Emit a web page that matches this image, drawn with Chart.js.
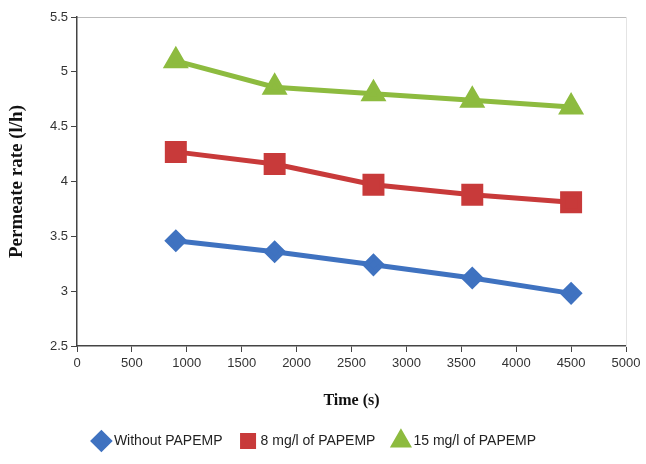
<!DOCTYPE html>
<html>
<head>
<meta charset="utf-8">
<script src="https://cdn.jsdelivr.net/npm/chart.js@4.4.0/dist/chart.umd.min.js"></script>
<style>
  html, body { margin: 0; padding: 0; background: #fff; }
  #wrap { width: 646px; height: 464px; }
</style>
</head>
<body>
<div id="wrap"><canvas id="myChart" width="646" height="464"></canvas></div>
<script>
'use strict'

// time in seconds
const times = [900, 1800, 2700, 3600, 4500];
// permeate rate (l/h)
const withoutPapemp = [3.46, 3.36, 3.24, 3.12, 2.98];
const papemp8 = [4.27, 4.16, 3.97, 3.88, 3.81];
const papemp15 = [5.10, 4.86, 4.80, 4.74, 4.68];
const seriesNames = ['Without PAPEMP', '8 mg/l of PAPEMP', '15 mg/l of PAPEMP'];

function toPoints(values) {
  return times.map(function (t, i) { return { x: t, y: values[i] }; });
}

const tickFont = { family: "'Liberation Sans', Arial, sans-serif", size: 13 };
const serif = "'Liberation Serif', 'Times New Roman', serif";

let ctx = document.getElementById('myChart').getContext('2d');

// eslint-disable-next-line no-unused-vars
let chart = new Chart(ctx, {
  type: 'line',
  data: {
    datasets: [{
      label: seriesNames[0],
      data: toPoints(withoutPapemp),
      borderColor: '#3f72c0',
      backgroundColor: '#3f72c0',
      borderWidth: 5,
      pointStyle: 'rectRot',
      pointRadius: 8,
      pointHoverRadius: 8
    },
    {
      label: seriesNames[1],
      data: toPoints(papemp8),
      borderColor: '#c83a3a',
      backgroundColor: '#c83a3a',
      borderWidth: 5,
      pointStyle: 'rect',
      pointRadius: 12,
      pointHoverRadius: 12
    },
    {
      label: seriesNames[2],
      data: toPoints(papemp15),
      borderColor: '#8dbb3f',
      backgroundColor: '#8dbb3f',
      borderWidth: 5,
      pointStyle: 'triangle',
      pointRadius: 10,
      pointHoverRadius: 10
    }]
  },
  options: {
    responsive: false,
    animation: false,
    layout: { padding: { left: 6, right: 20, top: 15, bottom: 6 } },
    plugins: {
      tooltip: { enabled: false },
      legend: {
        position: 'bottom',
        labels: {
          usePointStyle: true,
          boxWidth: 11,
          boxHeight: 11,
          padding: 20,
          color: '#222',
          font: { family: tickFont.family, size: 14 }
        }
      }
    },
    scales: {
      x: {
        type: 'linear',
        min: 0,
        max: 5000,
        afterFit: function (scale) { scale.height = 68; },
        ticks: {
          stepSize: 500, color: '#333', font: tickFont, padding: 4,
          callback: function (v) { return String(v); }
        },
        grid: { drawOnChartArea: false, drawTicks: true, tickLength: 6, color: '#444' },
        border: { color: '#444', width: 1.5 },
        title: { display: true, text: 'Time (s)', color: '#111', font: { family: serif, size: 16, weight: 'bold' }, padding: { top: 12 } }
      },
      x2: {
        type: 'linear',
        position: 'top',
        min: 0,
        max: 5000,
        ticks: { display: false },
        grid: { display: false },
        border: { color: '#bbb', width: 1 },
        afterFit: function (scale) { scale.height = 0; }
      },
      y: {
        min: 2.5,
        max: 5.5,
        afterFit: function (scale) { scale.width = 71; },
        ticks: {
          stepSize: 0.5, color: '#333', font: tickFont, padding: 3,
          callback: function (v) { return String(v); }
        },
        grid: { drawOnChartArea: false, drawTicks: true, tickLength: 6, color: '#444' },
        border: { color: '#444', width: 1.5 },
        title: { display: true, text: 'Permeate rate (l/h)', color: '#111', font: { family: serif, size: 19, weight: 'bold' }, padding: { top: 0, bottom: 4 } }
      },
      y2: {
        position: 'right',
        min: 2.5,
        max: 5.5,
        ticks: { display: false },
        grid: { display: false },
        border: { color: '#e4e4e4', width: 1 },
        afterFit: function (scale) { scale.width = 0; }
      }
    }
  }
});
</script>
</body>
</html>
